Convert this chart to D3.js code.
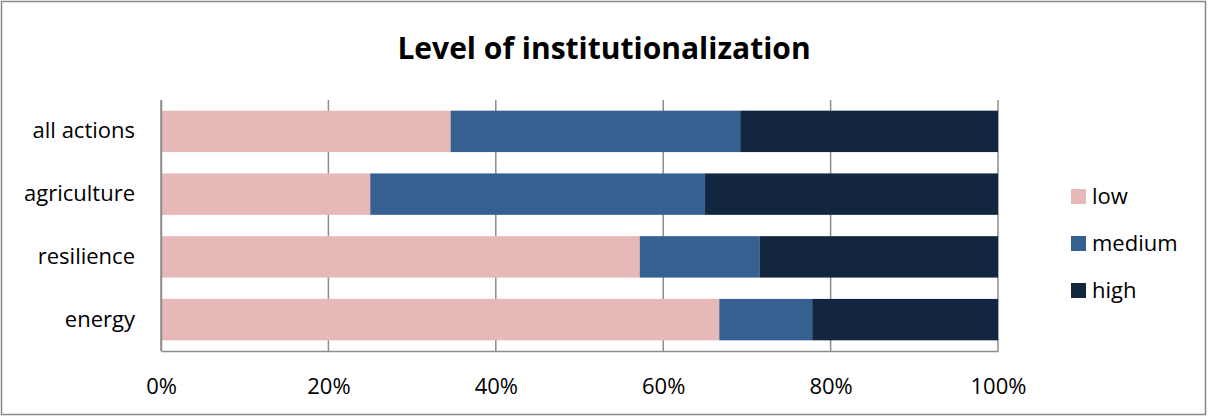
<!DOCTYPE html>
<html>
<head>
<meta charset="utf-8">
<script src="https://cdn.jsdelivr.net/npm/d3@7"></script>
<style>
	body { margin: 0; background: #fff; }
	svg { display: block; font-family: "Open Sans", sans-serif; }
</style>
</head>
<body>
<svg id="chart" width="1208" height="417"></svg>
<script>
var categories = ["all actions", "agriculture", "resilience", "energy"];
var levels = ["low", "medium", "high"];
var lowValues = [34.6, 25.0, 57.2, 66.7];
var mediumValues = [34.6, 40.0, 14.3, 11.1];
var highValues = [30.8, 35.0, 28.5, 22.2];
var tickValues = [0, 20, 40, 60, 80, 100];
var colors = ["#e6b9b8", "#376092", "#12263f"];

var svg = d3.select("#chart");
var margin = { left: 161, right: 998, top: 100, bottom: 351 };
var fontSize = 22;

/* outer border */
svg.append("rect")
	.attr("x", 1.5).attr("y", 1.5)
	.attr("width", 1204).attr("height", 413)
	.attr("fill", "none")
	.attr("stroke", "#888")
	.attr("stroke-width", 1.5);

svg.append("text")
	.attr("x", 604)
	.attr("y", 58.5)
	.attr("text-anchor", "middle")
	.attr("font-size", 30)
	.attr("font-weight", "bold")
	.text("Level of institutionalization");

var x = d3.scaleLinear().domain([0, 100]).range([margin.left, margin.right]);
var y = d3.scaleBand().domain(categories).range([margin.top, margin.bottom]).paddingInner(0.34).paddingOuter(0.17);

/* gridlines */
svg.append("g")
	.selectAll("line")
	.data(tickValues)
	.enter()
	.append("line")
	.attr("x1", function(d) { return x(d); })
	.attr("x2", function(d) { return x(d); })
	.attr("y1", margin.top)
	.attr("y2", margin.bottom)
	.attr("stroke", "#8c8c8c")
	.attr("stroke-width", 1.5);

var rows = categories.map(function(c, i) {
	return { cat: c, low: lowValues[i], medium: mediumValues[i], high: highValues[i] };
});
var stacked = d3.stack().keys(levels)(rows);

svg.append("g")
	.selectAll("g")
	.data(stacked)
	.enter()
	.append("g")
	.attr("fill", function(d, i) { return colors[i]; })
	.selectAll("rect")
	.data(function(d) { return d; })
	.enter()
	.append("rect")
	.attr("x", function(d) { return x(d[0]); })
	.attr("width", function(d) { return x(d[1]) - x(d[0]); })
	.attr("y", function(d) { return y(d.data.cat); })
	.attr("height", y.bandwidth());

/* x axis */
var xAxis = svg.append("g")
	.attr("transform", "translate(0," + margin.bottom + ")")
	.call(d3.axisBottom(x).tickValues(tickValues).tickSize(0).tickPadding(27)
		.tickFormat(function(d) { return d + "%"; }));
xAxis.select(".domain").attr("stroke", "#8c8c8c").attr("stroke-width", 1.5);
xAxis.selectAll("text").attr("font-size", fontSize).attr("fill", "#000").attr("font-family", "'Open Sans', sans-serif");

/* y axis */
var yAxis = svg.append("g")
	.attr("transform", "translate(" + margin.left + ",0)")
	.call(d3.axisLeft(y).tickSize(0).tickPadding(26));
yAxis.select(".domain").attr("stroke", "#8c8c8c").attr("stroke-width", 1.5);
yAxis.selectAll("text").attr("font-size", fontSize).attr("fill", "#000").attr("font-family", "'Open Sans', sans-serif");

/* legend */
var legend = svg.append("g")
	.selectAll("g")
	.data(levels)
	.enter()
	.append("g")
	.attr("transform", function(d, i) { return "translate(1071," + (189 + i * 47) + ")"; });
legend.append("rect")
	.attr("width", 15).attr("height", 15)
	.attr("fill", function(d, i) { return colors[i]; });
legend.append("text")
	.attr("x", 21).attr("y", 15)
	.attr("font-size", fontSize)
	.text(function(d) { return d; });
</script>
</body>
</html>
